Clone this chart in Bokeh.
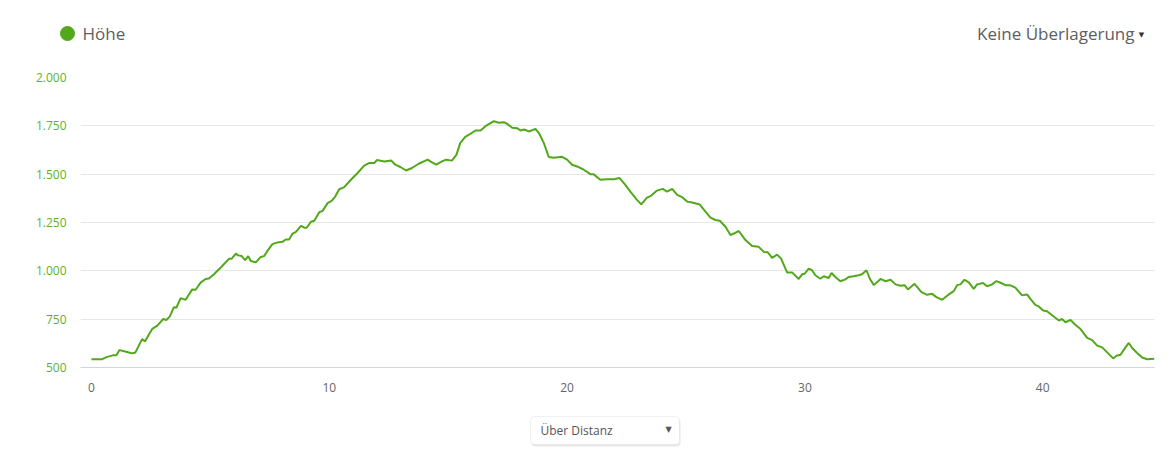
from bokeh.plotting import figure
from bokeh.models import Label, FixedTicker, Range1d, BoxAnnotation
from bokeh.layouts import column, row
from bokeh.embed import file_html
from bokeh.resources import INLINE

km = [0.0, 0.24, 0.45, 0.66, 0.94, 1.05, 1.18, 1.5, 1.71, 1.85, 2.13, 2.25, 2.35, 2.56, 2.77,
      3.02, 3.15, 3.29, 3.47, 3.57, 3.75, 3.96, 4.24, 4.38, 4.59, 4.8, 4.94, 5.15, 5.44, 5.79,
      5.9, 6.07, 6.17, 6.31, 6.46, 6.59, 6.7, 6.91, 7.12, 7.26, 7.4, 7.61, 7.82, 8.03, 8.17,
      8.31, 8.46, 8.6, 8.81, 8.95, 9.05, 9.23, 9.37, 9.58, 9.72, 9.93, 10.1, 10.25, 10.42,
      10.63, 10.91, 11.19, 11.47, 11.69, 11.9, 12.0, 12.32, 12.6, 12.78, 12.99, 13.23, 13.48,
      13.76, 14.14, 14.32, 14.5, 14.74, 14.91, 15.16, 15.35, 15.51, 15.72, 15.93, 16.15, 16.36,
      16.57, 16.92, 17.13, 17.34, 17.48, 17.69, 17.9, 18.04, 18.2, 18.39, 18.67, 18.81, 19.02,
      19.23, 19.44, 19.79, 20.0, 20.21, 20.42, 20.7, 20.98, 21.12, 21.4, 21.68, 21.96, 22.21,
      22.45, 22.66, 22.94, 23.12, 23.36, 23.53, 23.78, 24.02, 24.2, 24.42, 24.63, 24.84, 25.05,
      25.26, 25.58, 25.82, 26.03, 26.24, 26.42, 26.66, 26.87, 27.01, 27.22, 27.5, 27.78, 28.06,
      28.27, 28.44, 28.62, 28.83, 29.0, 29.25, 29.46, 29.74, 29.88, 29.99, 30.16, 30.3, 30.44,
      30.65, 30.79, 31.0, 31.12, 31.28, 31.49, 31.7, 31.84, 32.05, 32.26, 32.4, 32.59, 32.73,
      32.9, 33.18, 33.39, 33.6, 33.81, 34.02, 34.19, 34.33, 34.61, 34.9, 35.14, 35.35, 35.53,
      35.77, 36.05, 36.26, 36.4, 36.54, 36.71, 36.89, 37.1, 37.24, 37.49, 37.66, 37.87, 38.05,
      38.25, 38.43, 38.64, 38.85, 39.13, 39.34, 39.48, 39.69, 39.83, 40.02, 40.18, 40.46, 40.68,
      40.81, 40.96, 41.17, 41.38, 41.59, 41.87, 42.08, 42.29, 42.5, 42.71, 42.96, 43.1, 43.27,
      43.48, 43.62, 43.76, 43.97, 44.18, 44.39, 44.7]
hoehe = [543, 543, 543, 555, 564, 563, 590, 580, 573, 578, 647, 635, 656, 700, 717,
         751, 746, 763, 812, 809, 859, 850, 904, 902, 939, 958, 960, 982, 1017, 1063,
         1063, 1089, 1080, 1077, 1055, 1076, 1051, 1044, 1072, 1076, 1103, 1138, 1147, 1150, 1162,
         1162, 1193, 1202, 1233, 1223, 1223, 1254, 1259, 1303, 1310, 1350, 1362, 1384, 1422,
         1433, 1471, 1506, 1544, 1558, 1558, 1573, 1566, 1571, 1549, 1537, 1519, 1532,
         1554, 1575, 1561, 1549, 1566, 1575, 1570, 1601, 1662, 1693, 1708, 1726, 1726,
         1748, 1774, 1766, 1769, 1760, 1740, 1738, 1726, 1731, 1721, 1734, 1714, 1662,
         1589, 1585, 1590, 1575, 1549, 1540, 1523, 1500, 1499, 1471, 1474, 1474, 1480,
         1445, 1410, 1367, 1344, 1379, 1388, 1415, 1424, 1410, 1424, 1393, 1381, 1358,
         1353, 1343, 1306, 1275, 1263, 1259, 1228, 1185, 1193, 1206, 1159, 1128, 1124,
         1098, 1096, 1067, 1084, 1063, 992, 992, 958, 982, 985, 1011, 1003, 977,
         959, 972, 963, 989, 968, 946, 956, 968, 972, 977, 982, 1003, 959,
         926, 958, 946, 954, 930, 923, 926, 904, 933, 890, 876, 881, 864,
         850, 878, 895, 926, 930, 954, 940, 907, 930, 937, 920, 930, 947,
         937, 926, 925, 913, 873, 878, 855, 824, 816, 795, 791, 764, 743,
         751, 734, 746, 720, 699, 653, 642, 613, 604, 578, 547, 561, 566,
         604, 627, 601, 575, 552, 543, 545]

y_ticks = [500, 750, 1000, 1250, 1500, 1750, 2000]
y_tick_labels = ["500", "750", "1.000", "1.250", "1.500", "1.750", "2.000"]
x_ticks = [0, 10, 20, 30, 40]
series_name = "Höhe"
overlay_text = "Keine Überlagerung"
select_text = "Über Distanz"

GREEN = "#52a81a"
LABEL_GREEN = "#5cb22a"
W = 1161


def blank(height):
    f = figure(width=W, height=height, output_backend="svg", toolbar_location=None,
               x_range=Range1d(0, W), y_range=Range1d(0, height),
               min_border=0, x_axis_type=None, y_axis_type=None)
    f.outline_line_color = None
    f.xgrid.visible = False
    f.ygrid.visible = False
    f.border_fill_color = "white"
    f.background_fill_color = "white"
    return f


# ---- header (legend + overlay selector) ----
head = blank(50)
head.scatter(x=[67], y=[17], size=14, marker="circle", color=GREEN)
head.add_layout(Label(x=82, y=17, text=series_name, text_color="#606060",
                      text_font="Open Sans", text_font_size="17px",
                      text_align="left", text_baseline="middle"))
head.add_layout(Label(x=1134, y=17, text=overlay_text, text_color="#606060",
                      text_font="Open Sans", text_font_size="17px",
                      text_align="right", text_baseline="middle"))
head.add_layout(Label(x=1141, y=16, text="▼", text_color="#333333",
                      text_font="DejaVu Sans", text_font_size="7px",
                      text_align="center", text_baseline="middle"))

# ---- main chart ----
p = figure(width=W, height=347, output_backend="svg", toolbar_location=None,
           x_range=Range1d(-0.46, 44.7), y_range=Range1d(500, 2000),
           min_border_left=80, min_border_right=7, min_border_top=27, min_border_bottom=30)
p.outline_line_color = None
p.background_fill_color = "white"
p.border_fill_color = "white"

p.line(km, hoehe, line_color=GREEN, line_width=2)

p.xgrid.grid_line_color = None
p.ygrid.grid_line_color = "#e6e6e6"
p.ygrid.ticker = FixedTicker(ticks=y_ticks)

p.yaxis.ticker = FixedTicker(ticks=y_ticks)
p.yaxis.major_label_overrides = {t: l for t, l in zip(y_ticks, y_tick_labels)}
p.yaxis.axis_line_color = None
p.yaxis.major_tick_line_color = None
p.yaxis.minor_tick_line_color = None
p.yaxis.major_label_text_color = LABEL_GREEN
p.yaxis.major_label_text_font = "Open Sans"
p.yaxis.major_label_text_font_size = "12px"
p.yaxis.major_label_standoff = 8

p.xaxis.ticker = FixedTicker(ticks=x_ticks)
p.xaxis.axis_line_color = "#ccd6eb"
p.xaxis.major_tick_line_color = None
p.xaxis.minor_tick_line_color = None
p.xaxis.major_label_text_color = "#666666"
p.xaxis.major_label_text_font = "Open Sans"
p.xaxis.major_label_text_font_size = "12px"
p.xaxis.major_label_standoff = 9

# ---- footer (x-mode selector) ----
foot = blank(60)
foot.add_layout(BoxAnnotation(left=531, right=680, bottom=11, top=39,
                              fill_color="#e8e8e8", fill_alpha=1.0, line_color=None,
                              border_radius=4))
foot.add_layout(BoxAnnotation(left=530, right=679, bottom=13, top=41,
                              fill_color="white", fill_alpha=1.0, line_color="#cccccc",
                              line_width=1, border_radius=4))
foot.add_layout(Label(x=540, y=27, text=select_text, text_color="#555555",
                      text_font="Open Sans", text_font_size="12px",
                      text_align="left", text_baseline="middle"))
foot.add_layout(Label(x=668, y=28, text="▼", text_color="#555555",
                      text_font="DejaVu Sans", text_font_size="8px",
                      text_align="center", text_baseline="middle"))

layout = column(row(head), p, row(foot), spacing=0)
open("out.html", "w").write(file_html(layout, INLINE))
